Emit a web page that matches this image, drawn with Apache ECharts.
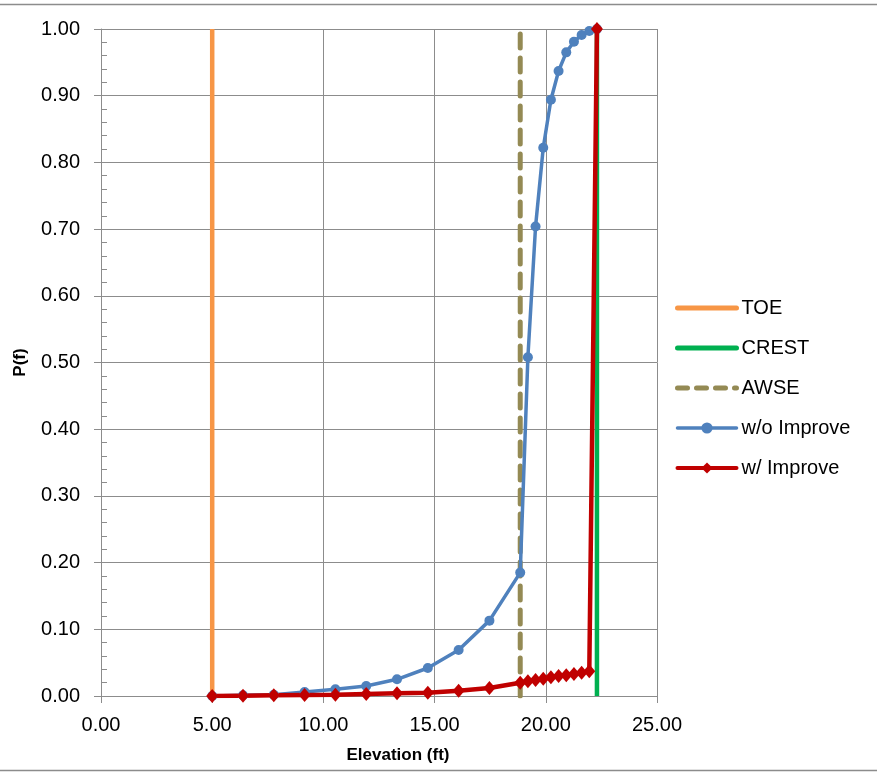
<!DOCTYPE html>
<html>
<head>
<meta charset="utf-8">
<script src="https://cdn.jsdelivr.net/npm/echarts@6/dist/echarts.min.js"></script>
<style>
html,body{margin:0;padding:0;background:#fff;}
#chart{width:877px;height:772px;}
</style>
</head>
<body>
<div id="chart"></div>
<script>
// ---- data ----
const elevation = [5.00, 6.385, 7.77, 9.155, 10.54, 11.925, 13.31, 14.695, 16.08, 17.465, 18.85,
  19.195, 19.54, 19.885, 20.23, 20.575, 20.92, 21.265, 21.61, 21.955, 22.30];
const pWithoutImprove = [0.000, 0.001, 0.002, 0.006, 0.010, 0.015, 0.025, 0.042, 0.069, 0.113, 0.185,
  0.508, 0.704, 0.822, 0.894, 0.937, 0.965, 0.981, 0.991, 0.997, 1.000];
const pWithImprove = [0.000, 0.0005, 0.001, 0.0015, 0.002, 0.003, 0.004, 0.005, 0.008, 0.012, 0.020,
  0.022, 0.024, 0.026, 0.028, 0.030, 0.031, 0.033, 0.035, 0.037, 1.000];
const toeElev = 5.00;
const crestElev = 22.30;
const awseElev = 18.85;
const seriesNames = ['TOE', 'CREST', 'AWSE', 'w/o Improve', 'w/ Improve'];
const xTicks = {min: 0, max: 25, interval: 5};
const yTicks = {min: 0, max: 1, interval: 0.1};

const FONT = 'Liberation Sans';
const gridColor = '#8c8c8c';
const pairs = (xs, ys) => xs.map((x, i) => [x, ys[i]]);
const vline = x => [[x, yTicks.min], [x, yTicks.max]];

const chart = echarts.init(document.getElementById('chart'), null, {renderer: 'canvas'});
chart.setOption({
  animation: false,
  backgroundColor: '#fff',
  graphic: [
    {type: 'line', shape: {x1: 0, y1: 4.5, x2: 877, y2: 4.5}, style: {stroke: '#8c8c8c', lineWidth: 1.5}},
    {type: 'line', shape: {x1: 0, y1: 770.5, x2: 877, y2: 770.5}, style: {stroke: '#8c8c8c', lineWidth: 1.5}}
  ],
  grid: {left: 101, right: 220, top: 29, bottom: 76, containLabel: false},
  legend: {
    orient: 'vertical',
    left: 675,
    top: 298,
    padding: 0,
    itemWidth: 59,
    itemHeight: 14,
    itemGap: 20,
    data: [
      {name: seriesNames[0], itemStyle: {opacity: 0}, lineStyle: {width: 5, cap: 'round'}},
      {name: seriesNames[1], itemStyle: {opacity: 0}, lineStyle: {width: 5, cap: 'round'}},
      {name: seriesNames[2], itemStyle: {opacity: 0}, lineStyle: {width: 5, type: [10, 9], cap: 'round'}},
      {name: seriesNames[3], lineStyle: {width: 3.5, cap: 'round'}},
      {name: seriesNames[4], lineStyle: {width: 4, cap: 'round'}}
    ],
    textStyle: {fontFamily: FONT, fontSize: 20, color: '#000', lineHeight: 20, padding: 0},
    selectedMode: false
  },
  xAxis: {
    type: 'value',
    min: xTicks.min, max: xTicks.max, interval: xTicks.interval,
    name: 'Elevation (ft)',
    nameLocation: 'middle',
    nameGap: 51,
    nameTextStyle: {fontFamily: FONT, fontSize: 17, fontWeight: 'bold', color: '#000', padding: [0, 0, 0, 38]},
    axisLine: {show: true, onZero: false, lineStyle: {color: gridColor, width: 1}},
    axisTick: {show: true, length: 7, lineStyle: {color: gridColor}},
    axisLabel: {fontFamily: FONT, fontSize: 20, color: '#000', margin: 19,
      formatter: v => v.toFixed(2)},
    splitLine: {show: true, lineStyle: {color: gridColor, width: 1}}
  },
  yAxis: [{
    type: 'value',
    min: yTicks.min, max: yTicks.max, interval: yTicks.interval,
    name: 'P(f)',
    nameLocation: 'middle',
    nameGap: 72,
    nameTextStyle: {fontFamily: FONT, fontSize: 17, fontWeight: 'bold', color: '#000'},
    axisLine: {show: true, onZero: false, lineStyle: {color: gridColor, width: 1}},
    axisTick: {show: true, length: 7, lineStyle: {color: gridColor}},
    axisLabel: {fontFamily: FONT, fontSize: 20, color: '#000', margin: 21,
      formatter: v => v.toFixed(2)},
    splitLine: {show: true, lineStyle: {color: gridColor, width: 1}}
  }, {
    type: 'value',
    position: 'left',
    min: yTicks.min, max: yTicks.max, interval: yTicks.interval,
    axisLine: {show: false},
    axisTick: {show: false, inside: true},
    minorTick: {show: true, splitNumber: 5, length: 6, lineStyle: {color: gridColor, width: 1}},
    axisLabel: {show: false},
    splitLine: {show: false}
  }],
  series: [
    {name: 'TOE', type: 'line', data: vline(toeElev), symbol: 'none',
      lineStyle: {color: '#F79646', width: 4.5}, itemStyle: {color: '#F79646'}},
    {name: 'CREST', type: 'line', data: vline(crestElev), symbol: 'none',
      lineStyle: {color: '#00B050', width: 4.5}, itemStyle: {color: '#00B050'}},
    {name: 'AWSE', type: 'line', data: vline(awseElev), symbol: 'none',
      lineStyle: {color: '#948A54', width: 5, type: [14, 10], cap: 'round'}, itemStyle: {color: '#948A54'}},
    {name: 'w/o Improve', type: 'line', data: pairs(elevation, pWithoutImprove),
      symbol: 'circle', symbolSize: 10,
      lineStyle: {color: '#4F81BD', width: 3.5}, itemStyle: {color: '#4F81BD'}},
    {name: 'w/ Improve', type: 'line', data: pairs(elevation, pWithImprove),
      symbol: 'diamond', symbolSize: [12, 14],
      lineStyle: {color: '#C00000', width: 4.5}, itemStyle: {color: '#C00000'}}
  ]
});
</script>
</body>
</html>
